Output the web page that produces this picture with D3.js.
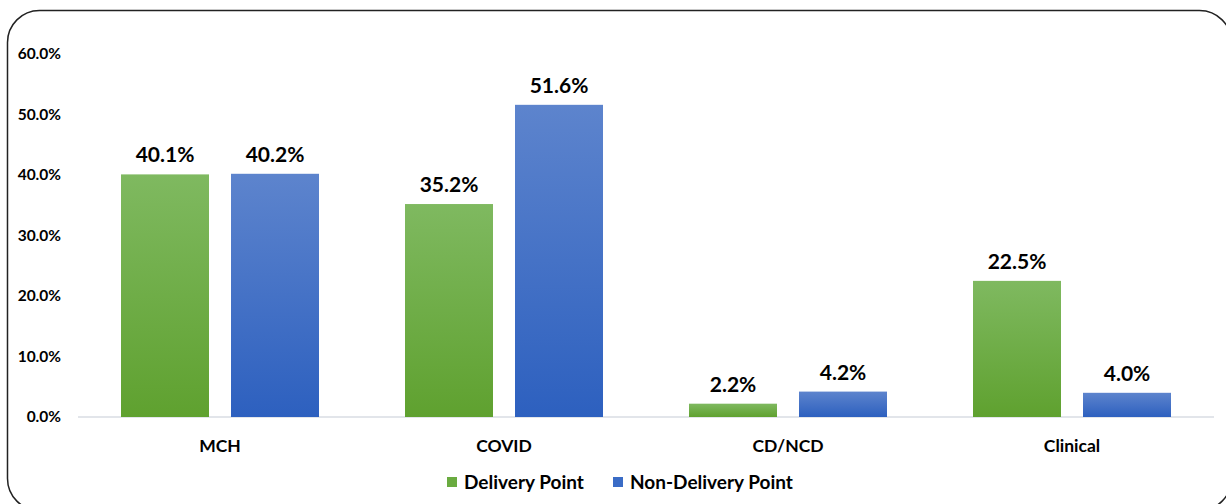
<!DOCTYPE html>
<html>
<head>
<meta charset="utf-8">
<script src="https://cdn.jsdelivr.net/npm/d3@7"></script>
<style>
  body { margin: 0; background: #fff; }
  text { font-family: Lato, "Open Sans", sans-serif; font-weight: bold; fill: #000; }
</style>
</head>
<body>
<div id="chart"></div>
<script>
var categories = ["MCH", "COVID", "CD/NCD", "Clinical"];
var seriesNames = ["Delivery Point", "Non-Delivery Point"];
var deliveryPoint = [40.1, 35.2, 2.2, 22.5];
var nonDeliveryPoint = [40.2, 51.6, 4.2, 4.0];
var yTicks = [0, 10, 20, 30, 40, 50, 60];

var width = 1226, height = 504;

var svg = d3.select("#chart")
    .append("svg")
    .attr("width", width)
    .attr("height", height);

// gradients, lighter at the top like the original
var defs = svg.append("defs");
var grads = [
    { id: "g-green", top: "#7fb960", bottom: "#5fa12f" },
    { id: "g-blue", top: "#5d84cd", bottom: "#2d60bf" }
];
grads.forEach((g) => {
    var lg = defs.append("linearGradient")
        .attr("id", g.id)
        .attr("x1", 0).attr("y1", 0)
        .attr("x2", 0).attr("y2", 1);
    lg.append("stop").attr("offset", "0%").attr("stop-color", g.top);
    lg.append("stop").attr("offset", "100%").attr("stop-color", g.bottom);
});
var fills = ["url(#g-green)", "url(#g-blue)"];
var legendColors = ["#6aab40", "#3a6cc6"];

// frame
svg.append("rect")
    .attr("x", 7.5)
    .attr("y", 10.5)
    .attr("width", 1224)
    .attr("height", 500)
    .attr("rx", 32)
    .attr("fill", "none")
    .attr("stroke", "#222")
    .attr("stroke-width", 1.5);

var x0 = d3.scaleBand()
    .domain(categories)
    .range([78, 1214]);

var x1 = d3.scaleBand()
    .domain(seriesNames)
    .range([43, 241])
    .paddingInner(0.2);

var y = d3.scaleLinear()
    .domain([0, 60])
    .range([417, 54]);

// baseline
svg.append("line")
    .attr("x1", 78).attr("x2", 1214)
    .attr("y1", y(0)).attr("y2", y(0))
    .attr("stroke", "#d9dde3")
    .attr("stroke-width", 1.5);

// y tick labels
svg.selectAll(".ytick")
    .data(yTicks)
    .enter()
    .append("text")
    .attr("class", "ytick")
    .attr("x", 61)
    .attr("y", (d) => y(d))
    .attr("dy", "0.35em")
    .attr("text-anchor", "end")
    .style("font-size", "15.5px")
    .text((d) => d.toFixed(1) + "%");

var rows = categories.map((c, i) => ({
    cat: c,
    values: [deliveryPoint[i], nonDeliveryPoint[i]]
}));

var groups = svg.selectAll(".grp")
    .data(rows)
    .enter()
    .append("g")
    .attr("class", "grp")
    .attr("transform", (d) => "translate(" + x0(d.cat) + ",0)");

groups.selectAll("rect")
    .data((d) => d.values.map((v, j) => ({ name: seriesNames[j], v: v, j: j })))
    .enter()
    .append("rect")
    .attr("x", (d) => x1(d.name))
    .attr("width", x1.bandwidth())
    .attr("y", (d) => y(d.v))
    .attr("height", (d) => y(0) - y(d.v))
    .attr("fill", (d) => fills[d.j]);

groups.selectAll(".val")
    .data((d) => d.values.map((v, j) => ({ name: seriesNames[j], v: v })))
    .enter()
    .append("text")
    .attr("class", "val")
    .attr("x", (d) => x1(d.name) + x1.bandwidth() / 2)
    .attr("y", (d) => y(d.v) - 12)
    .attr("text-anchor", "middle")
    .style("font-size", "21px")
    .text((d) => d.v.toFixed(1) + "%");

// category labels
svg.selectAll(".cat")
    .data(categories)
    .enter()
    .append("text")
    .attr("class", "cat")
    .attr("x", (d) => x0(d) + x0.bandwidth() / 2)
    .attr("y", 452)
    .attr("text-anchor", "middle")
    .style("font-size", "17.5px")
    .text((d) => d);

// legend
var legendX = [447, 613];
var legend = svg.selectAll(".leg")
    .data(seriesNames)
    .enter()
    .append("g")
    .attr("class", "leg")
    .attr("transform", (d, i) => "translate(" + legendX[i] + ",477)");
legend.append("rect")
    .attr("width", 10)
    .attr("height", 10)
    .attr("fill", (d, i) => legendColors[i]);
legend.append("text")
    .attr("x", 17)
    .attr("y", 11.5)
    .style("font-size", "19px")
    .text((d) => d);
</script>
</body>
</html>
